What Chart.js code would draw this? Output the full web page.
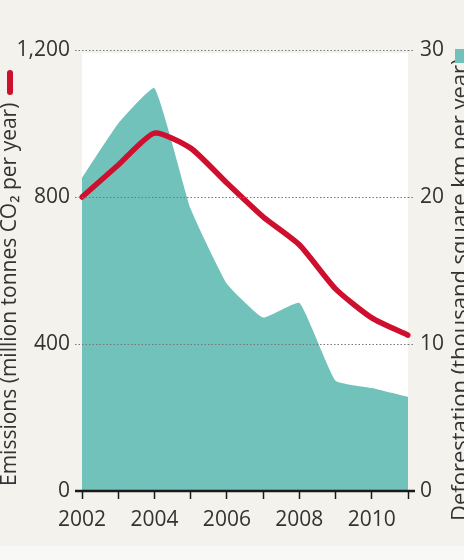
<!DOCTYPE html>
<html>
<head>
<meta charset="utf-8">
<script src="https://cdn.jsdelivr.net/npm/chart.js@4/dist/chart.umd.min.js"></script>
<style>
  html, body { margin: 0; padding: 0; background: #f3f2ed; }
  #wrap { width: 464px; height: 560px; }
</style>
</head>
<body>
<div id="wrap"><canvas id="chart" width="464" height="560"></canvas></div>
<script>
// data
const years = ['2002', '2003', '2004', '2005', '2006', '2007', '2008', '2009', '2010', '2011'];
const emissions = [800, 887, 974, 933, 838, 746, 670, 550, 471, 424];          // million tonnes CO2
const deforestation = [21.3, 25.0, 27.4, 19.2, 14.1, 11.8, 12.8, 7.5, 7.0, 6.4]; // thousand km2
const emissionsRange = [0, 1200];
const deforestRange = [0, 30];

const leftTitle = 'Emissions (million tonnes CO\u2082 per year)';
const rightTitle = 'Deforestation (thousand square km per year)';

const RED = '#cf0f2e';
const TEAL = '#70c2bb';
const FONT = '"Open Sans", sans-serif';

const framePlugin = {
    id: 'frame',
    beforeDraw(chart) {
        const { ctx, chartArea: a } = chart;
        ctx.save();
        ctx.fillStyle = '#f3f2ed';
        ctx.fillRect(0, 0, chart.width, chart.height);
        ctx.fillStyle = '#f8f8f6';
        ctx.fillRect(0, 546, chart.width, chart.height - 546);
        ctx.fillStyle = '#ffffff';
        ctx.fillRect(a.left, a.top + 3, a.right - a.left, a.bottom - a.top - 3);
        ctx.restore();
    },
    afterDraw(chart) {
        const { ctx, chartArea: a } = chart;
        ctx.save();
        // baseline
        ctx.strokeStyle = '#1a1a1a';
        ctx.lineWidth = 2.5;
        ctx.beginPath();
        ctx.moveTo(a.left - 7, a.bottom);
        ctx.lineTo(a.right + 7, a.bottom);
        ctx.stroke();

        // axis titles, both reading bottom to top
        ctx.fillStyle = '#333';
        ctx.textAlign = 'left';
        ctx.textBaseline = 'middle';
        ctx.save();
        ctx.font = '21px ' + FONT;
        ctx.translate(10.5, 486);
        ctx.rotate(-Math.PI / 2);
        ctx.fillText(leftTitle, 0, 0);
        ctx.restore();
        ctx.save();
        ctx.font = '22px ' + FONT;
        ctx.translate(460.5, 521);
        ctx.rotate(-Math.PI / 2);
        ctx.fillText(rightTitle, 0, 0);
        ctx.restore();

        // legend keys
        ctx.fillStyle = RED;
        ctx.beginPath();
        ctx.roundRect(7, 70, 6, 25, 3);
        ctx.fill();
        ctx.fillStyle = TEAL;
        ctx.fillRect(455, 49, 9, 14);
        ctx.restore();
    }
};

new Chart(document.getElementById('chart').getContext('2d'), {
    type: 'line',
    data: {
        labels: years,
        datasets: [
            {
                label: 'Emissions',
                data: emissions,
                yAxisID: 'y',
                borderColor: RED,
                borderWidth: 5.5,
                borderCapStyle: 'round',
                borderJoinStyle: 'round',
                pointRadius: 0,
                tension: 0.2,
                fill: false,
                order: 0
            },
            {
                label: 'Deforestation',
                data: deforestation,
                yAxisID: 'y1',
                borderWidth: 0,
                borderColor: TEAL,
                backgroundColor: TEAL,
                pointRadius: 0,
                tension: 0.12,
                fill: 'origin',
                order: 1
            }
        ]
    },
    options: {
        responsive: false,
        animation: false,
        layout: { padding: { top: 50, left: 0, right: 0, bottom: 0 } },
        plugins: {
            legend: { display: false },
            tooltip: { enabled: false }
        },
        scales: {
            x: {
                offset: false,
                afterFit: s => { s.height = 69; },
                grid: {
                    drawOnChartArea: false,
                    drawTicks: true,
                    tickLength: 8,
                    tickColor: '#1a1a1a',
                    tickWidth: 1.5
                },
                border: { display: false },
                ticks: {
                    autoSkip: false,
                    maxRotation: 0,
                    padding: 8,
                    color: '#333',
                    font: { family: FONT, size: 21 },
                    callback: (v, i) => (i % 2 === 0 ? years[i] : '')
                }
            },
            y: {
                position: 'left',
                min: emissionsRange[0],
                max: emissionsRange[1],
                afterFit: s => { s.width = 82; },
                grid: {
                    z: 1,
                    color: c => (c.tick && c.tick.value === 0 ? 'rgba(0,0,0,0)' : '#777'),
                    tickColor: c => (c.tick && c.tick.value === 0 ? '#1a1a1a' : '#777'),
                    lineWidth: 1,
                    tickLength: 7,
                    tickBorderDash: [1.5, 2]
                },
                border: { display: false, dash: [1.5, 2] },
                ticks: {
                    stepSize: 400,
                    padding: 5,
                    color: '#333',
                    font: { family: FONT, size: 21 },
                    callback: v => v.toLocaleString('en-US')
                }
            },
            y1: {
                position: 'right',
                min: deforestRange[0],
                max: deforestRange[1],
                afterFit: s => { s.width = 56; },
                grid: {
                    drawOnChartArea: false,
                    tickLength: 7,
                    tickColor: c => (c.tick && c.tick.value === 0 ? '#1a1a1a' : '#777'),
                    tickBorderDash: [1.5, 2]
                },
                border: { display: false },
                ticks: {
                    stepSize: 10,
                    padding: 5,
                    color: '#333',
                    font: { family: FONT, size: 21 }
                }
            }
        }
    },
    plugins: [framePlugin]
});
</script>
</body>
</html>
